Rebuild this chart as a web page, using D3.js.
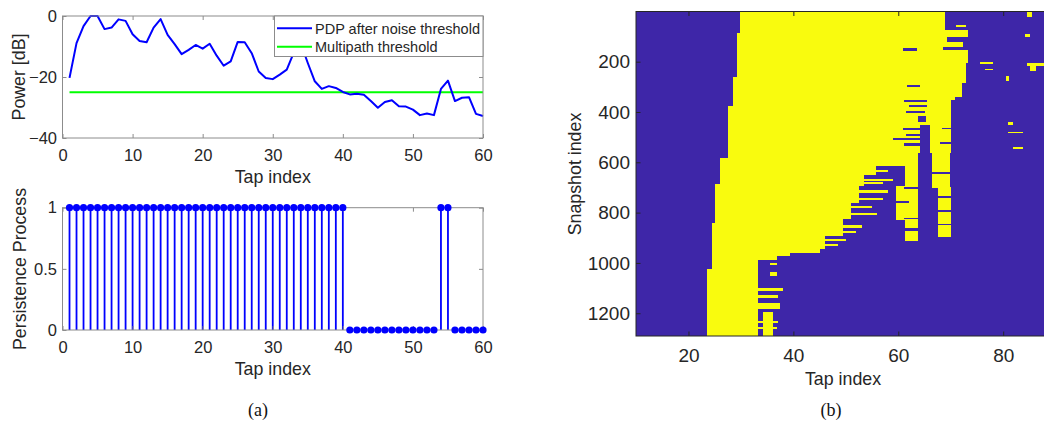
<!DOCTYPE html>
<html lang="en">
<head>
<meta charset="utf-8">
<title>PDP, persistence and tap map</title>
<style>
body {
  margin: 0;
  background: #fff;
}
svg {
  display: block;
  font-family: "Liberation Sans", Arial, sans-serif;
}
</style>
</head>
<body>

<svg id="fig" width="1044" height="428"></svg>

<script src="https://d3js.org/d3.v7.min.js"></script>
<script>

// ---------- data: (a) ----------
var taps = d3.range(1, 61);

var pdpDb = [-20.3, -8.9, -3.3, 0, 0, -4.3, -3.8, -1.1, -1.6, -6.0,
  -8.2, -8.6, -3.8, -1.0, -6.2, -9.2, -12.5, -11.1, -9.5, -10.7,
  -9.1, -13.0, -16.3, -14.9, -8.5, -8.6, -12.2, -18.2, -20.3, -20.7,
  -19.2, -17.6, -12.0, -9.0, -15.4, -21.4, -23.9, -23.0, -23.6, -24.9,
  -25.7, -25.5, -25.8, -27.9, -30.1, -28.2, -27.6, -29.6, -29.7, -30.7,
  -32.5, -32.0, -32.5, -23.9, -21.2, -27.9, -26.8, -26.6, -32.1, -32.8];

var multipathThreshold = -25;

var persistence = [1, 1, 1, 1, 1, 1, 1, 1, 1, 1,
  1, 1, 1, 1, 1, 1, 1, 1, 1, 1,
  1, 1, 1, 1, 1, 1, 1, 1, 1, 1,
  1, 1, 1, 1, 1, 1, 1, 1, 1, 1,
  0, 0, 0, 0, 0, 0, 0, 0, 0, 0,
  0, 0, 0, 1, 1, 0, 0, 0, 0, 0];

var xTicksA = [0, 10, 20, 30, 40, 50, 60];
var yTicksPdp = [-40, -20, 0];
var yTicksPer = [0, 0.5, 1];
var legendLabels = ["PDP after noise threshold", "Multipath threshold"];

// ---------- data: (b) ----------
// binary map, written as bands [firstSnapshot, lastSnapshot, fromTap, toTap]
var mainBands = [
  [0, 74, 29.8, 69.0], [74, 86, 29.8, 73.2], [86, 101, 29.2, 73.2],
  [101, 121, 29.2, 69.2], [121, 141, 29.2, 72.3], [141, 152, 29.2, 68.5],
  [152, 204, 29.2, 73.2], [204, 260, 29.2, 72.9], [260, 284, 28.4, 72.9],
  [284, 339, 28.4, 72.1], [339, 350, 28.4, 70.8], [350, 375, 28.4, 70.0],
  [375, 562, 27.6, 70.0], [562, 581, 27.6, 63.8], [581, 615, 26.0, 61.8],
  [615, 648, 26.0, 55.8], [648, 688, 26.0, 53.5], [688, 694, 25.1, 53.5],
  [694, 760, 25.1, 52.5], [760, 826, 25.1, 51.0], [826, 843, 25.1, 49.5],
  [843, 892, 24.4, 49.5], [892, 945, 24.4, 46.0], [945, 960, 24.4, 45.0],
  [960, 972, 24.4, 39.3], [972, 988, 24.4, 36.8], [988, 1025, 24.4, 33.3],
  [1025, 1291, 23.6, 33.3]
];

var spikeBands = [
  [581, 694, 61.3, 63.8], [694, 830, 59.5, 63.8], [830, 912, 61.3, 63.8],
  [562, 700, 66.5, 69.8], [700, 895, 67.5, 70.0]
];

var fringeBands = [
  [632, 638, 53, 58], [665, 672, 53.5, 59], [680, 686, 53.5, 57],
  [712, 720, 52.5, 58], [740, 748, 52.5, 57], [775, 782, 51, 55],
  [800, 808, 51, 56], [850, 858, 49.5, 53], [875, 880, 49.5, 52],
  [905, 912, 46, 50], [925, 930, 46, 48.5], [952, 958, 39.3, 43],
  [1000, 1008, 35.6, 36.8], [1035, 1052, 35.6, 36.8], [1098, 1112, 33.3, 38.0],
  [1128, 1140, 33.3, 37.0], [1160, 1180, 33.3, 37.4], [1195, 1291, 34.3, 36.2],
  [1230, 1238, 33.3, 37.0], [1255, 1262, 33.3, 36.8]
];

var speckBands = [
  [2, 20, 84.5, 85.4], [55, 62, 71, 73], [88, 100, 84.2, 85.2],
  [200, 210, 75.5, 78.0], [207, 217, 84.5, 87.7], [205, 237, 85.2, 86.2],
  [228, 233, 76.5, 78], [255, 275, 80.6, 81.2], [440, 450, 80.9, 81.8],
  [478, 482, 81, 83.7], [540, 545, 81.8, 83.7]
];

var blueHoles = [
  [146, 156, 60.9, 63.6], [292, 298, 61.6, 64.1], [352, 360, 61.0, 65.5],
  [372, 378, 62.0, 65.5], [395, 402, 61.5, 65.0], [415, 440, 63.8, 65.2],
  [462, 470, 60.9, 65.5], [488, 494, 61.5, 64.5], [505, 512, 59, 65.5],
  [525, 535, 61, 66], [462, 468, 68.3, 70.0], [520, 528, 68, 70],
  [450, 562, 64.2, 66.0], [700, 706, 61, 64], [755, 762, 59.5, 62],
  [820, 826, 61, 64], [862, 870, 61, 64], [640, 646, 66.5, 70],
  [735, 742, 67.5, 70], [790, 796, 67.5, 70], [845, 850, 67.5, 70]
];

var xTicksB = [20, 40, 60, 80];
var yTicksB = [200, 400, 600, 800, 1000, 1200];

var textColor = "#262626";
var lightFrame = "#8c8c8c";
var mapBlue = "#3e26a8";
var mapYellow = "#f9fb0e";

var svg = d3.select("#fig");

// draws ticks on all four sides (pointing inward) plus the box
function drawFrame(x, y, xTicks, yTicks, opts) {
  var g = svg.append("g");
  var y0 = d3.max(y.range()), y1 = d3.min(y.range());
  var x0 = x.range()[0], x1 = x.range()[1];

  var bottom = g.append("g").attr("transform", "translate(0," + y0 + ")")
    .call(d3.axisBottom(x).tickValues(xTicks).tickSizeInner(-opts.tick).tickSizeOuter(0)
      .tickPadding(opts.xPad).tickFormat(d3.format("d")));
  var top = g.append("g").attr("transform", "translate(0," + y1 + ")")
    .call(d3.axisTop(x).tickValues(xTicks).tickSizeInner(-opts.tick).tickSizeOuter(0).tickFormat(""));
  var left = g.append("g").attr("transform", "translate(" + x0 + ",0)")
    .call(d3.axisLeft(y).tickValues(yTicks).tickSizeInner(-opts.tick).tickSizeOuter(0)
      .tickPadding(opts.yPad).tickFormat(opts.yFormat));
  var right = g.append("g").attr("transform", "translate(" + x1 + ",0)")
    .call(d3.axisRight(y).tickValues(yTicks).tickSizeInner(-opts.tick).tickSizeOuter(0).tickFormat(""));

  [bottom, top, left, right].forEach(function(a) {
    a.attr("font-family", null).attr("font-size", null);
    a.select(".domain").remove();
    a.selectAll(".tick line").attr("stroke", opts.frame);
    a.selectAll(".tick text").attr("fill", textColor).style("font-size", opts.font + "px");
  });

  g.append("rect")
    .attr("x", x0).attr("y", y1)
    .attr("width", x1 - x0).attr("height", y0 - y1)
    .attr("fill", "none").attr("stroke", opts.frame).attr("stroke-width", 1);
}

function label(text, x, y, size, rotate) {
  svg.append("text")
    .attr("transform", "translate(" + x + "," + y + ")" + (rotate ? " rotate(-90)" : ""))
    .attr("text-anchor", "middle")
    .attr("fill", textColor)
    .style("font-size", size + "px")
    .text(text);
}

// ---------- (a) top: PDP ----------
var xA = d3.scaleLinear().domain([0, 60]).range([62.5, 483]);
var yPdp = d3.scaleLinear().domain([-40, 0]).range([138, 16]);

svg.append("line")
  .attr("x1", xA(1)).attr("x2", xA(60))
  .attr("y1", yPdp(multipathThreshold)).attr("y2", yPdp(multipathThreshold))
  .attr("stroke", "#00ff00").attr("stroke-width", 2);

svg.append("path")
  .datum(taps)
  .attr("fill", "none")
  .attr("stroke", "#0000ff")
  .attr("stroke-width", 2)
  .attr("stroke-linejoin", "round")
  .attr("d", d3.line().x(function(t) { return xA(t); }).y(function(t, i) { return yPdp(pdpDb[i]); }));

drawFrame(xA, yPdp, xTicksA, yTicksPdp,
  { tick: 4, xPad: 11.5, yPad: 5.5, font: 16.5, frame: lightFrame, yFormat: d3.format("d") });

// legend
var lg = svg.append("g");
lg.append("rect")
  .attr("x", 274.5).attr("y", 16).attr("width", 208.5).attr("height", 40.5)
  .attr("fill", "#fff").attr("stroke", lightFrame);
var legendColors = ["#0000ff", "#00ff00"];
legendLabels.forEach(function(name, i) {
  var ly = 28.3 + i * 18.4;
  lg.append("line").attr("x1", 277).attr("x2", 312).attr("y1", ly).attr("y2", ly)
    .attr("stroke", legendColors[i]).attr("stroke-width", 2);
  lg.append("text").attr("x", 315).attr("y", ly + 5.2)
    .attr("fill", textColor).style("font-size", "14.5px").text(name);
});

label("Power [dB]", 24.7, 77, 17.8, true);
label("Tap index", 272.75, 182.5, 17.8, false);

// ---------- (a) bottom: persistence stems ----------
var yPer = d3.scaleLinear().domain([0, 1]).range([330, 207.7]);

svg.append("g").selectAll("line")
  .data(taps)
  .join("line")
  .attr("x1", function(t) { return xA(t); })
  .attr("x2", function(t) { return xA(t); })
  .attr("y1", yPer(0))
  .attr("y2", function(t, i) { return yPer(persistence[i]); })
  .attr("stroke", "#0000ff").attr("stroke-width", 1.8);

drawFrame(xA, yPer, xTicksA, yTicksPer,
  { tick: 4, xPad: 11.5, yPad: 5.5, font: 16.5, frame: lightFrame, yFormat: d3.format("") });

svg.append("g").selectAll("circle")
  .data(taps)
  .join("circle")
  .attr("cx", function(t) { return xA(t); })
  .attr("cy", function(t, i) { return yPer(persistence[i]); })
  .attr("r", 3.6)
  .attr("fill", "#0000ff");

label("Persistence Process", 25.7, 269, 17.8, true);
label("Tap index", 272.75, 374.5, 17.8, false);

// ---------- (b) tap map ----------
var xB = d3.scaleLinear().domain([10, 89]).range([636, 1050.4]);
var yB = d3.scaleLinear().domain([0.5, 1290.5]).range([11.5, 336]);

svg.append("clipPath").attr("id", "mapclip")
  .append("rect").attr("x", 636).attr("y", 11.5).attr("width", 414.4).attr("height", 324.5);

var map = svg.append("g").attr("clip-path", "url(#mapclip)")
  .attr("shape-rendering", "crispEdges");

map.append("rect")
  .attr("x", 636).attr("y", 11.5).attr("width", 414.4).attr("height", 324.5)
  .attr("fill", mapBlue);

function drawBands(list, color) {
  map.append("g").selectAll("rect")
    .data(list)
    .join("rect")
    .attr("x", function(d) { return xB(d[2]); })
    .attr("width", function(d) { return xB(d[3]) - xB(d[2]); })
    .attr("y", function(d) { return yB(d[0]); })
    .attr("height", function(d) { return yB(d[1]) - yB(d[0]) + 0.3; })
    .attr("fill", color);
}

drawBands(mainBands, mapYellow);
drawBands(spikeBands, mapYellow);
drawBands(fringeBands, mapYellow);
drawBands(speckBands, mapYellow);
drawBands(blueHoles, mapBlue);

drawFrame(xB, yB, xTicksB, yTicksB,
  { tick: 4.5, xPad: 12.5, yPad: 6, font: 19, frame: textColor, yFormat: d3.format("d") });

label("Snapshot index", 581, 174, 17.8, true);
label("Tap index", 843, 384.7, 17.8, false);

// ---------- captions ----------
svg.append("text").attr("x", 258).attr("y", 416).attr("text-anchor", "middle")
  .attr("fill", "#111").style("font-family", "'Liberation Serif', serif").style("font-size", "18px").text("(a)");
svg.append("text").attr("x", 831).attr("y", 416).attr("text-anchor", "middle")
  .attr("fill", "#111").style("font-family", "'Liberation Serif', serif").style("font-size", "18px").text("(b)");

</script>
</body>
</html>
